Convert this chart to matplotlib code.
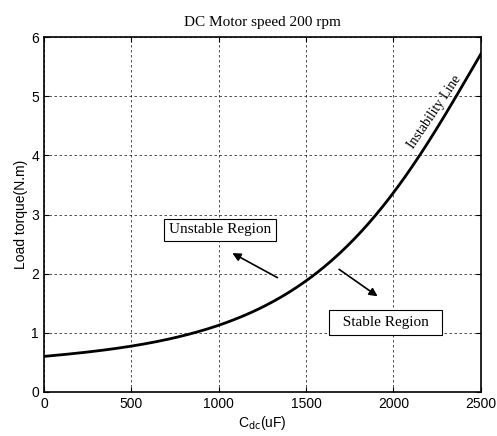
import matplotlib
matplotlib.use("Agg")
import matplotlib.pyplot as plt
import numpy as np

# values
cdc = [0, 250, 500, 750, 1000, 1250, 1500, 1750, 2000, 2250, 2500]
torque = [0.60, 0.68, 0.77, 0.92, 1.12, 1.45, 1.88, 2.50, 3.35, 4.50, 5.70]
xticks = [0, 500, 1000, 1500, 2000, 2500]
yticks = [0, 1, 2, 3, 4, 5, 6]

serif = "Liberation Serif"
sans = "Liberation Sans"

fig = plt.figure(figsize=(4.97, 4.36), dpi=100)
ax = fig.add_axes([0.0885, 0.101, 0.879, 0.814])

# smooth the read points with a polynomial in log space
xs = np.linspace(0, 2500, 300)
coef = np.polyfit(cdc, np.log(torque), 5)
ax.plot(xs, np.exp(np.polyval(coef, xs)), color="black", lw=2)

ax.set_xlim(0, 2500)
ax.set_ylim(0, 6)
ax.set_xticks(xticks)
ax.set_yticks(yticks)
ax.grid(True, color="black", linestyle=(0, (3, 3)), lw=0.6, alpha=0.8)
ax.tick_params(direction="in", top=True, right=True, labelsize=10)
for lab in ax.get_xticklabels() + ax.get_yticklabels():
    lab.set_family(sans)
for s in ax.spines.values():
    s.set_linewidth(1.2)

ax.set_title("DC Motor speed 200 rpm", family=serif, fontsize=11, pad=8)
ax.set_xlabel("C$_{\\mathrm{dc}}$(uF)", family=sans, fontsize=10, labelpad=2)
ax.set_ylabel("Load torque(N.m)", family=sans, fontsize=10, labelpad=2)

box = dict(boxstyle="square,pad=0.3", fc="white", ec="black", lw=0.8)
box2 = dict(boxstyle="square,pad=0.4", fc="white", ec="black", lw=0.8)
ax.text(1007, 2.74, "Unstable Region", family=serif, fontsize=11,
        ha="center", va="center", bbox=box)
ax.text(1954, 1.18, "  Stable Region  ", family=serif, fontsize=11,
        ha="center", va="center", bbox=box2)
ax.annotate("", xy=(1064, 2.37), xytext=(1350, 1.91),
            arrowprops=dict(arrowstyle="-|>", color="black", lw=1.2, mutation_scale=12))
ax.annotate("", xy=(1922, 1.59), xytext=(1676, 2.10),
            arrowprops=dict(arrowstyle="-|>", color="black", lw=1.2, mutation_scale=12))
ax.text(2232, 4.73, "Instability Line", family=serif, fontsize=10,
        rotation=56, ha="center", va="center")

fig.savefig("out.png", dpi=100)
